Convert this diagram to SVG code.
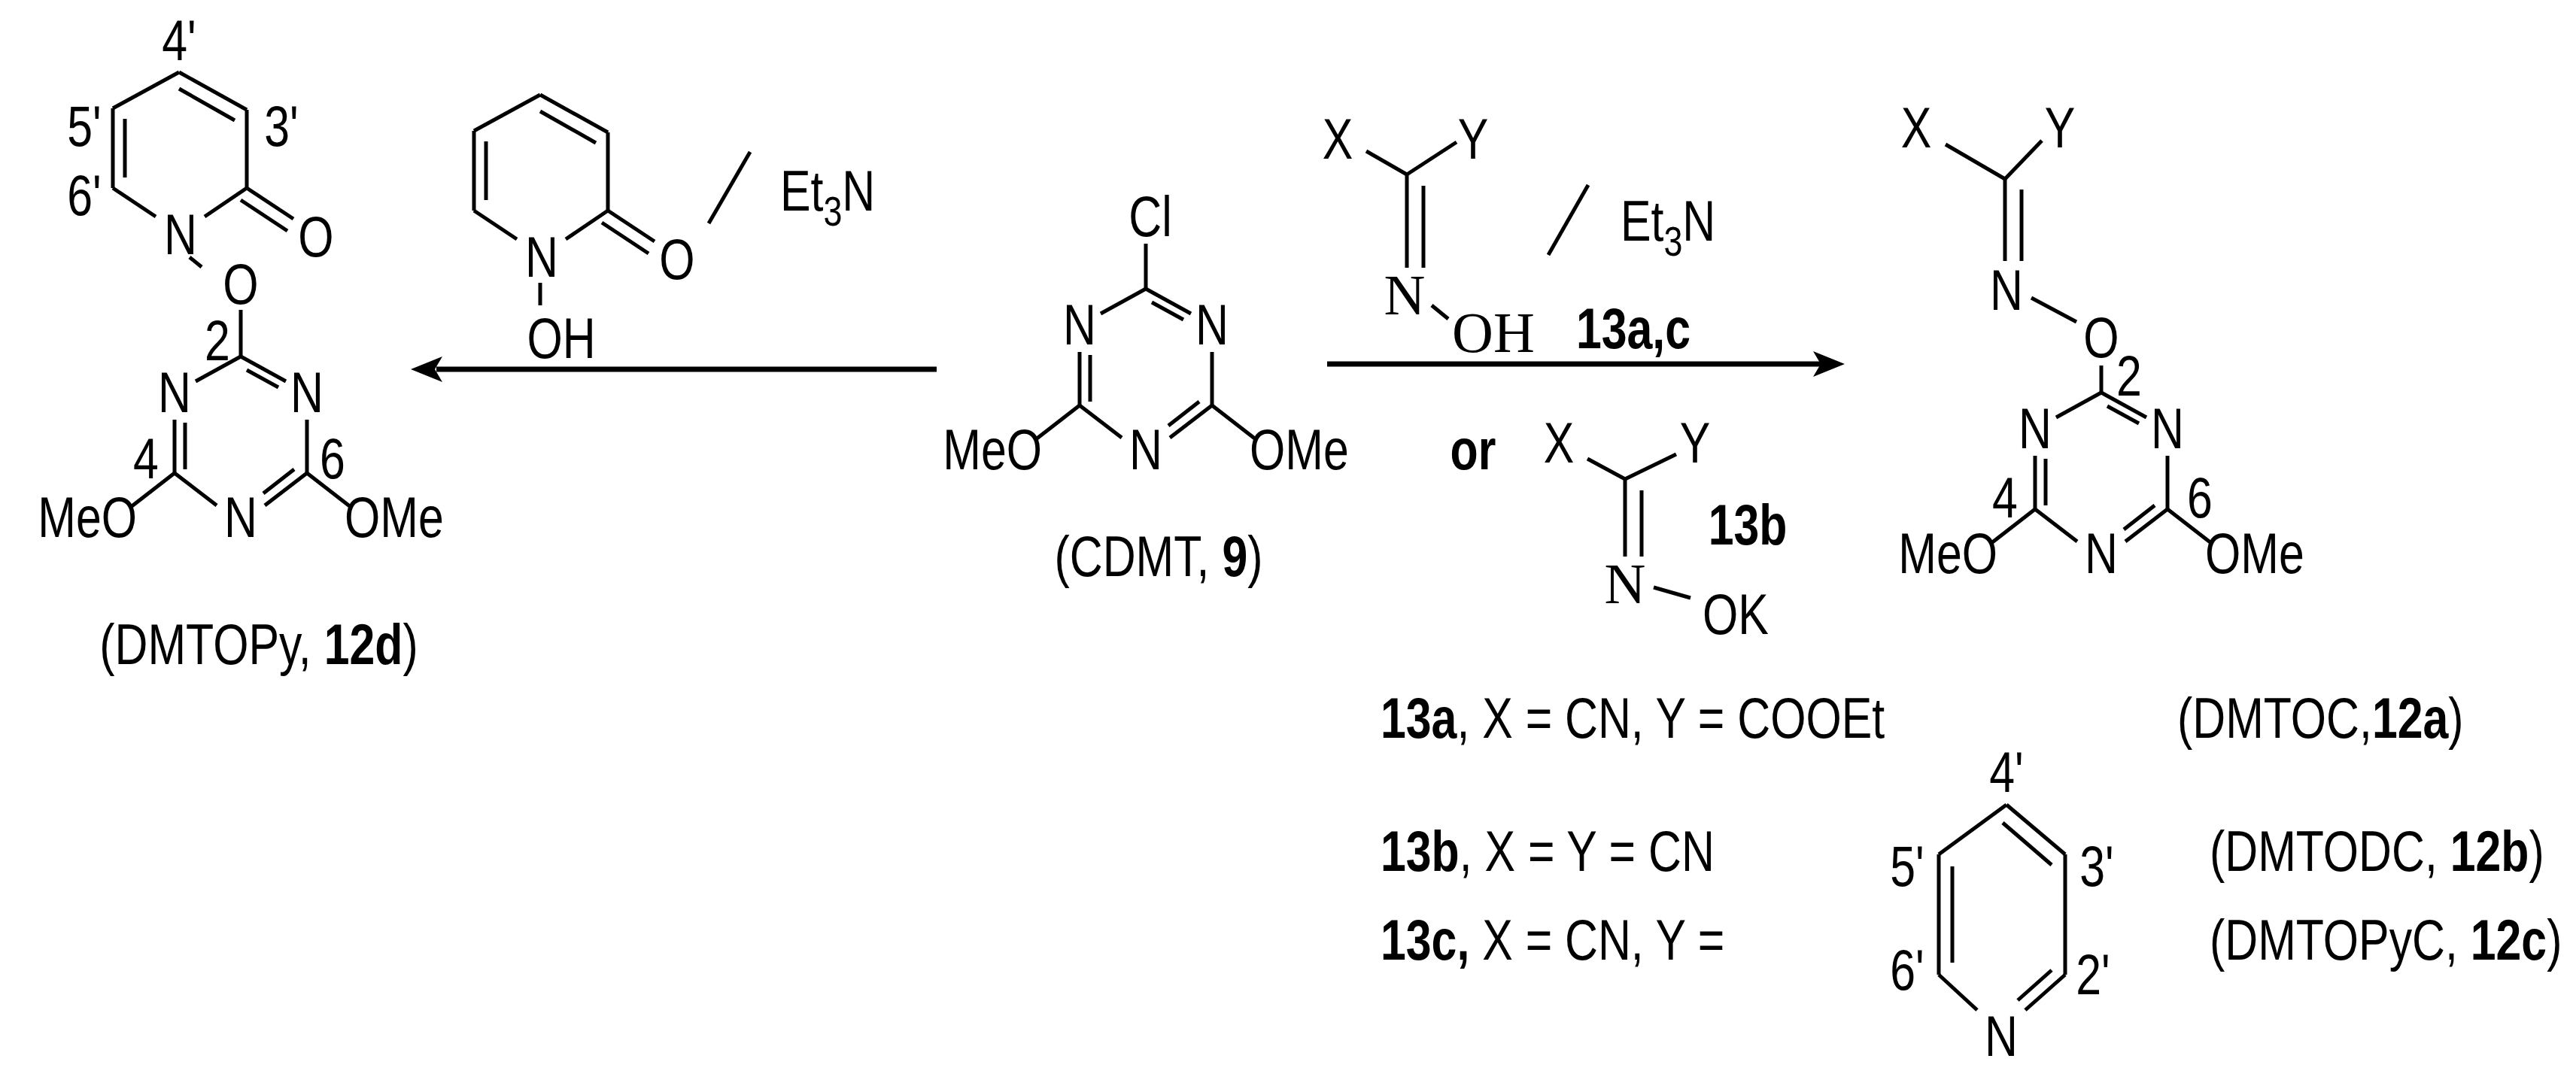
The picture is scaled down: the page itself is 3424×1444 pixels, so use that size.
<svg xmlns="http://www.w3.org/2000/svg" width="3424" height="1444" viewBox="0 0 3424 1444">
<style>
line{stroke:#000;stroke-width:5;fill:none}
text{font-family:"Liberation Sans",Arial,sans-serif;font-size:76px;fill:#000}
.m{text-anchor:middle}
.e{text-anchor:end}
.s{font-family:"Liberation Serif","Times New Roman",serif}
.b{font-weight:bold}
.ah{fill:#000;stroke:none}
</style>
<defs>
<g id="triaz">
<line x1="0" y1="0" x2="-60" y2="33"/>
<line x1="0" y1="0" x2="60" y2="33"/>
<line x1="8" y1="18" x2="50" y2="41"/>
<line x1="-88" y1="84" x2="-88" y2="155"/>
<line x1="-74" y1="88" x2="-74" y2="150"/>
<line x1="-88" y1="155" x2="-32" y2="198"/>
<line x1="88" y1="155" x2="32" y2="198"/>
<line x1="71" y1="150" x2="30" y2="182"/>
<line x1="88" y1="84" x2="88" y2="155"/>
<line x1="-88" y1="155" x2="-146" y2="200"/>
<line x1="88" y1="155" x2="146" y2="200"/>
<text class="m" transform="translate(-88,74) scale(0.8,1)">N</text>
<text class="m" transform="translate(88,74) scale(0.8,1)">N</text>
<text class="m" transform="translate(0,240) scale(0.8,1)">N</text>
<text class="e" transform="translate(-138,240) scale(0.8,1)">MeO</text>
<text transform="translate(138,240) scale(0.8,1)">OMe</text>
</g>
<g id="pyr">
<line x1="238" y1="96" x2="328" y2="146"/>
<line x1="238" y1="118" x2="312" y2="160"/>
<line x1="328" y1="146" x2="328" y2="250"/>
<line x1="328" y1="250" x2="272" y2="288"/>
<line x1="207" y1="288" x2="150" y2="250"/>
<line x1="150" y1="250" x2="150" y2="144"/>
<line x1="166" y1="236" x2="166" y2="158"/>
<line x1="150" y1="144" x2="238" y2="96"/>
<line x1="328" y1="250" x2="390" y2="291"/>
<line x1="320" y1="266" x2="382" y2="307"/>
<text class="m" transform="translate(240,338) scale(0.8,1)">N</text>
<text class="m" transform="translate(420,341) scale(0.8,1)">O</text>
</g>
</defs>

<g id="connectors">
<line x1="1245" y1="491" x2="580" y2="491" style="stroke-width:7"/>
<polygon class="ah" points="546,491 588,474 578,491 588,508"/>
<line x1="1764" y1="484" x2="2420" y2="484" style="stroke-width:7"/>
<polygon class="ah" points="2452,484 2410,467 2420,484 2410,501"/>
</g>

<g id="dmtopy">
<use href="#pyr"/>
<text class="m" transform="translate(238,80) scale(0.8,1)">4'</text>
<text class="m" transform="translate(374,194) scale(0.8,1)">3'</text>
<text class="m" transform="translate(112,194) scale(0.8,1)">5'</text>
<text class="m" transform="translate(112,286) scale(0.8,1)">6'</text>
<line x1="252" y1="342" x2="268" y2="355"/>
<text class="m" transform="translate(320,404) scale(0.8,1)">O</text>
<line x1="320" y1="412" x2="320" y2="474"/>
<use href="#triaz" transform="translate(320,474)"/>
<text class="m" transform="translate(289,479) scale(0.8,1)">2</text>
<text class="m" transform="translate(194,636) scale(0.8,1)">4</text>
<text class="m" transform="translate(442,636) scale(0.8,1)">6</text>
<text class="m" transform="translate(344,883) scale(0.8,1)">(DMTOPy, <tspan class="b">12d</tspan>)</text>
</g>

<g id="reagent1">
<use href="#pyr" transform="translate(480,30)"/>
<line x1="718" y1="376" x2="718" y2="406"/>
<text class="m" transform="translate(746,476) scale(0.8,1)">OH</text>
<line x1="997" y1="202" x2="942" y2="297"/>
<text transform="translate(1037,280) scale(0.8,1)">Et<tspan dy="20" font-size="56">3</tspan><tspan dy="-20">N</tspan></text>
</g>

<g id="cdmt">
<text class="m" transform="translate(1529,314) scale(0.8,1)">Cl</text>
<line x1="1523" y1="324" x2="1523" y2="384"/>
<use href="#triaz" transform="translate(1523,384)"/>
<text class="m" transform="translate(1540,766) scale(0.8,1)">(CDMT, <tspan class="b">9</tspan>)</text>
</g>

<g id="reagent2">
<text class="m" transform="translate(1778,211) scale(0.8,1)">X</text>
<text class="m" transform="translate(1958,211) scale(0.8,1)">Y</text>
<line x1="1816" y1="201" x2="1870" y2="232"/>
<line x1="1936" y1="189" x2="1870" y2="232"/>
<line x1="1870" y1="232" x2="1870" y2="356"/>
<line x1="1892" y1="247" x2="1892" y2="356"/>
<text class="m s" x="1867" y="418">N</text>
<line x1="1903" y1="406" x2="1925" y2="424"/>
<text class="m s" x="1985" y="468">OH</text>
<line x1="2111" y1="246" x2="2058" y2="339"/>
<text transform="translate(2154,320) scale(0.8,1)">Et<tspan dy="20" font-size="56">3</tspan><tspan dy="-20">N</tspan></text>
<text class="m b" transform="translate(2171,463) scale(0.8,1)">13a,c</text>
<text class="m b" transform="translate(1958,624) scale(0.8,1)">or</text>
</g>

<g id="reagent3">
<text class="m" transform="translate(2072,615) scale(0.8,1)">X</text>
<text class="m" transform="translate(2253,615) scale(0.8,1)">Y</text>
<line x1="2110" y1="610" x2="2160" y2="637"/>
<line x1="2228" y1="604" x2="2160" y2="637"/>
<line x1="2160" y1="637" x2="2160" y2="740"/>
<line x1="2182" y1="652" x2="2182" y2="740"/>
<text class="m s" x="2160" y="802">N</text>
<line x1="2198" y1="781" x2="2247" y2="795"/>
<text class="m" transform="translate(2307,843) scale(0.8,1)">OK</text>
<text class="m b" transform="translate(2323,724) scale(0.8,1)">13b</text>
</g>

<g id="product12">
<text class="m" transform="translate(2547,196) scale(0.8,1)">X</text>
<text class="m" transform="translate(2738,196) scale(0.8,1)">Y</text>
<line x1="2586" y1="192" x2="2665" y2="238"/>
<line x1="2714" y1="187" x2="2665" y2="238"/>
<line x1="2665" y1="238" x2="2665" y2="347"/>
<line x1="2687" y1="252" x2="2687" y2="347"/>
<text class="m" transform="translate(2667,412) scale(0.8,1)">N</text>
<line x1="2700" y1="396" x2="2760" y2="428"/>
<text class="m" transform="translate(2793,475) scale(0.8,1)">O</text>
<line x1="2793" y1="486" x2="2793" y2="522"/>
<use href="#triaz" transform="translate(2793,522)"/>
<text class="m" transform="translate(2830,526) scale(0.8,1)">2</text>
<text class="m" transform="translate(2665,688) scale(0.8,1)">4</text>
<text class="m" transform="translate(2924,688) scale(0.8,1)">6</text>
</g>

<g id="legend">
<text transform="translate(1835,981) scale(0.8,1)"><tspan class="b">13a</tspan>, X = CN, Y = COOEt</text>
<text transform="translate(2894,981) scale(0.8,1)">(DMTOC,<tspan class="b">12a</tspan>)</text>
<text transform="translate(1835,1158) scale(0.8,1)"><tspan class="b">13b</tspan>, X = Y = CN</text>
<text transform="translate(2937,1158) scale(0.8,1)">(DMTODC, <tspan class="b">12b</tspan>)</text>
<text transform="translate(1835,1276) scale(0.8,1)"><tspan class="b">13c,</tspan> X = CN, Y =</text>
<text transform="translate(2937,1276) scale(0.8,1)">(DMTOPyC, <tspan class="b">12c</tspan>)</text>
</g>

<g id="pyridine">
<line x1="2667" y1="1070" x2="2745" y2="1136"/>
<line x1="2662" y1="1094" x2="2727" y2="1150"/>
<line x1="2745" y1="1136" x2="2745" y2="1296"/>
<line x1="2745" y1="1296" x2="2692" y2="1343"/>
<line x1="2727" y1="1290" x2="2682" y2="1330"/>
<line x1="2628" y1="1343" x2="2577" y2="1296"/>
<line x1="2577" y1="1296" x2="2577" y2="1136"/>
<line x1="2595" y1="1280" x2="2595" y2="1152"/>
<line x1="2577" y1="1136" x2="2667" y2="1070"/>
<text class="m" transform="translate(2660,1404) scale(0.8,1)">N</text>
<text class="m" transform="translate(2667,1053) scale(0.8,1)">4'</text>
<text class="m" transform="translate(2787,1178) scale(0.8,1)">3'</text>
<text class="m" transform="translate(2535,1178) scale(0.8,1)">5'</text>
<text class="m" transform="translate(2535,1316) scale(0.8,1)">6'</text>
<text class="m" transform="translate(2782,1322) scale(0.8,1)">2'</text>
</g>
</svg>
